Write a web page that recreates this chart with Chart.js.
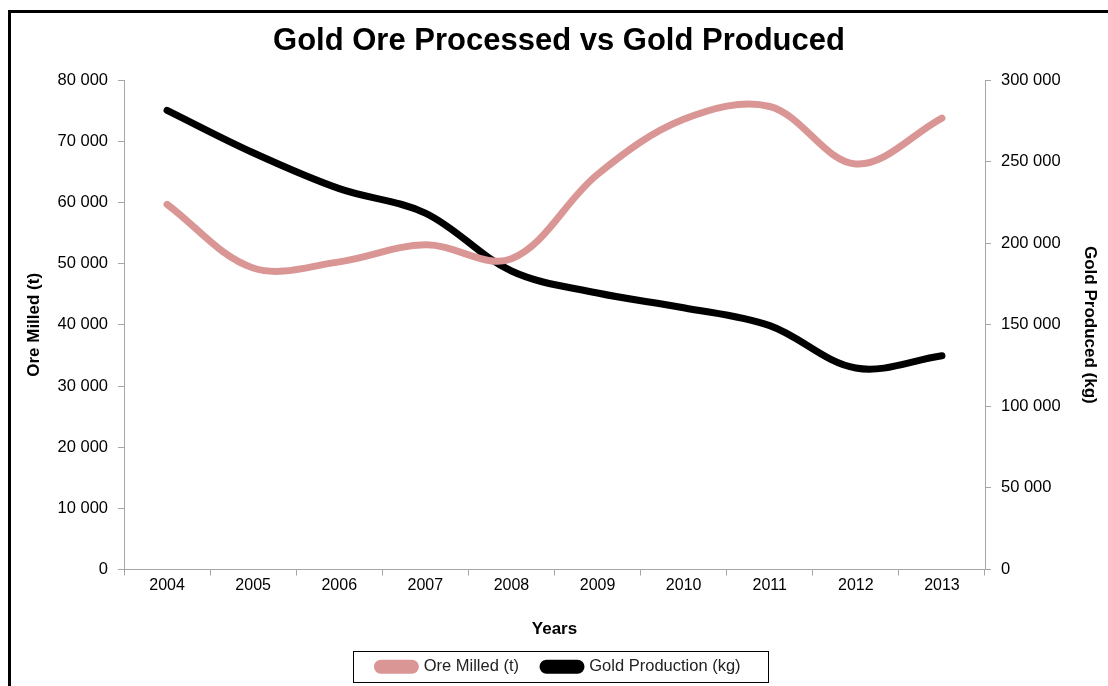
<!DOCTYPE html>
<html>
<head>
<meta charset="utf-8">
<title>Gold Ore Processed vs Gold Produced</title>
<script src="https://cdn.jsdelivr.net/npm/chart.js@4"></script>
<style>
  html, body { margin: 0; padding: 0; background: #ffffff; }
  #wrap { width: 1108px; height: 686px; position: relative; }
</style>
</head>
<body>
<div id="wrap"><canvas id="chart" width="1108" height="686"></canvas></div>
<script>
const years = ['2004', '2005', '2006', '2007', '2008', '2009', '2010', '2011', '2012', '2013'];
const oreMilled = [59700, 49300, 50300, 53100, 50800, 64600, 73600, 75700, 66300, 73800];
const goldProduced = [281500, 255500, 233500, 218500, 183000, 169500, 160500, 149500, 123500, 131000];
const oreTicks = [0, 10000, 20000, 30000, 40000, 50000, 60000, 70000, 80000];
const goldTicks = [0, 50000, 100000, 150000, 200000, 250000, 300000];

const FONT = "'Liberation Sans', Arial, sans-serif";
const fmt = v => String(v).replace(/\B(?=(\d{3})+(?!\d))/g, ' ');

// Outer frame of the chart and the box around the legend
const framePlugin = {
  id: 'frame',
  beforeDraw(chart) {
    const ctx = chart.ctx;
    ctx.save();
    ctx.fillStyle = '#ffffff';
    ctx.fillRect(0, 0, chart.width, chart.height);
    ctx.strokeStyle = '#000000';
    ctx.lineWidth = 3;
    ctx.strokeRect(9.5, 11.5, 1120, 700);
    ctx.restore();
  },
  afterDraw(chart) {
    const lg = chart.legend;
    if (!lg || !lg.legendHitBoxes.length) return;
    const boxes = lg.legendHitBoxes;
    const l = Math.min(...boxes.map(b => b.left)) - 24;
    const r = Math.max(...boxes.map(b => b.left + b.width)) + 28;
    const ctx = chart.ctx;
    ctx.save();
    ctx.strokeStyle = '#000000';
    ctx.lineWidth = 1;
    ctx.strokeRect(Math.round(l) + 0.5, 651.5, Math.round(r - l), 31);
    ctx.restore();
  }
};

new Chart(document.getElementById('chart'), {
  type: 'line',
  data: {
    labels: years,
    datasets: [
      {
        label: 'Ore Milled (t)',
        data: oreMilled,
        yAxisID: 'yOre',
        borderColor: '#D99694',
        backgroundColor: '#D99694',
        borderWidth: 7,
        borderCapStyle: 'round',
        pointRadius: 0,
        tension: 0.35
      },
      {
        label: 'Gold Production (kg)',
        data: goldProduced,
        yAxisID: 'yGold',
        borderColor: '#000000',
        backgroundColor: '#000000',
        borderWidth: 7,
        borderCapStyle: 'round',
        pointRadius: 0,
        tension: 0.35
      }
    ]
  },
  options: {
    responsive: false,
    animation: false,
    devicePixelRatio: 1,
    layout: { padding: { top: 12, left: 14, right: 4, bottom: 1 } },
    plugins: {
      title: {
        display: true,
        text: 'Gold Ore Processed vs Gold Produced',
        color: '#000000',
        font: { family: FONT, size: 31, weight: 'bold', lineHeight: 1.2 },
        padding: { top: 11, bottom: 20 }
      },
      legend: {
        position: 'bottom',
        labels: {
          color: '#222222',
          font: { family: FONT, size: 16.5 },
          boxWidth: 38,
          boxHeight: 7,
          useBorderRadius: true,
          borderRadius: 3.5,
          padding: 24
        }
      },
      tooltip: { enabled: false }
    },
    scales: {
      x: {
        type: 'category',
        offset: true,
        grid: {
          display: true,
          offset: true,
          drawOnChartArea: false,
          drawTicks: true,
          tickLength: 6,
          color: '#a6a6a6'
        },
        border: { display: true, color: '#a6a6a6', width: 1 },
        ticks: { color: '#000000', font: { family: FONT, size: 16 }, padding: 0, maxRotation: 0 },
        title: {
          display: true,
          text: 'Years',
          color: '#000000',
          font: { family: FONT, size: 17, weight: 'bold' },
          padding: { top: 0, bottom: -5 }
        },
        afterFit(scale) { scale.height = 65; }
      },
      yOre: {
        type: 'linear',
        position: 'left',
        min: 0,
        max: 80000,
        afterBuildTicks(scale) { scale.ticks = oreTicks.map(v => ({ value: v })); },
        grid: {
          display: true,
          drawOnChartArea: false,
          drawTicks: true,
          tickLength: 6,
          color: '#a6a6a6'
        },
        border: { display: true, color: '#a6a6a6', width: 1 },
        ticks: { color: '#000000', font: { family: FONT, size: 16.5 }, padding: 10, callback: v => fmt(v) },
        title: {
          display: true,
          text: 'Ore Milled (t)',
          color: '#000000',
          font: { family: FONT, size: 17, weight: 'bold' },
          padding: { top: 10, bottom: 0 }
        },
        afterFit(scale) { scale.width = 110; }
      },
      yGold: {
        type: 'linear',
        position: 'right',
        min: 0,
        max: 300000,
        afterBuildTicks(scale) { scale.ticks = goldTicks.map(v => ({ value: v })); },
        grid: {
          display: true,
          drawOnChartArea: false,
          drawTicks: true,
          tickLength: 6,
          color: '#a6a6a6'
        },
        border: { display: true, color: '#a6a6a6', width: 1 },
        ticks: { color: '#000000', font: { family: FONT, size: 16.5 }, padding: 10, callback: v => fmt(v) },
        title: {
          display: true,
          text: 'Gold Produced (kg)',
          color: '#000000',
          font: { family: FONT, size: 17, weight: 'bold' },
          padding: { top: 4, bottom: 0 }
        },
        afterFit(scale) { scale.width = 119; }
      }
    }
  },
  plugins: [framePlugin]
});
</script>
</body>
</html>
